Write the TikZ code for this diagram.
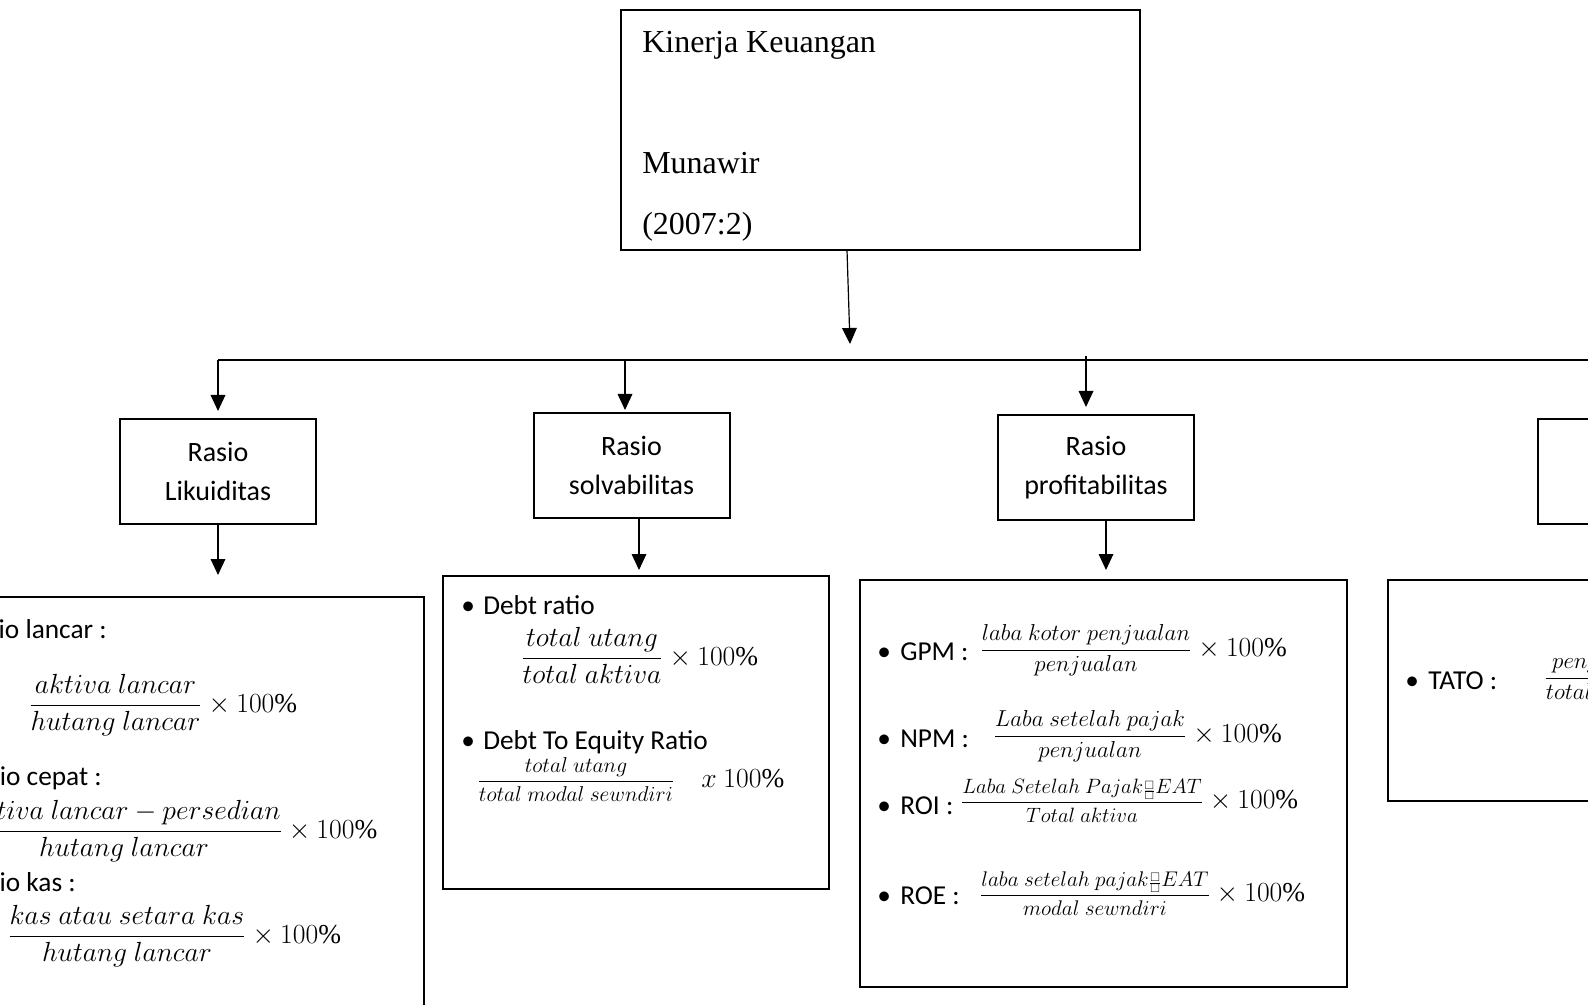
\documentclass[tikz,border=0pt]{standalone}
\usepackage{graphicx}
\usepackage{amsmath,amssymb}
\usepackage{fontspec}
\setmainfont{Liberation Serif}
\newfontfamily\calib{Carlito}
\usetikzlibrary{arrows.meta}
\tikzset{
  box/.style={draw, line width=1.5pt, inner sep=0pt},
  hdr/.style={box, font=\calib\fontsize{21}{29}\selectfont, align=center,
              minimum width=147pt, minimum height=78.75pt},
  tnr/.style={font=\fontsize{24}{28}\selectfont, anchor=base west, inner sep=0pt},
  lbl/.style={font=\calib\fontsize{20.5}{25}\selectfont, anchor=base west, inner sep=0pt},
  bigf/.style={font=\fontsize{20.5}{24}\selectfont, anchor=base, inner sep=0pt},
  smf/.style={font=\fontsize{17.28}{20}\selectfont, anchor=base, inner sep=0pt},
  pct/.style={font=\fontsize{20.5}{24}\selectfont, anchor=base west, inner sep=0pt},
  conn/.style={line width=0.9pt},
  arr/.style={conn, -{Triangle[width=11pt,length=12pt]}}
}
\newcommand{\phbox}{{\scriptscriptstyle\frac{\square}{\square}}}
\begin{document}
\begin{tikzpicture}[x=0.75pt,y=-0.75pt]
\fill[white] (0,0) rectangle (1588,1005);
\useasboundingbox (0,0) rectangle (1588,1005);
\clip (0,0) rectangle (1588,1005);

% top box
\node[box, minimum width=389.25pt, minimum height=180pt] (top) at (880.5,130) {};
\node[tnr] (t1) at (642,53) {Kinerja Keuangan};
\node[tnr] (t2) at (642,174) {Munawir};
\node[tnr] (t3) at (642,235) {(2007:2)};

% header boxes
\node[hdr] (h1) at (218,471.5) {Rasio\\Likuiditas};
\node[hdr] (h2) at (631.5,465.5) {Rasio\\solvabilitas};
\node[hdr] (h3) at (1096,467.5) {Rasio\\profitabilitas};
\node[box, minimum width=147pt, minimum height=78.75pt] (h4) at (1636,471.5) {};

% lower boxes
\node[box, minimum width=393pt, minimum height=377.25pt] (l1) at (162,848.5) {};
\node[box, minimum width=289.5pt, minimum height=234.75pt] (l2) at (636,732.5) {};
\node[box, minimum width=365.25pt, minimum height=305.25pt] (l3) at (1103.5,783.5) {};
\node[box, minimum width=365.25pt, minimum height=165.75pt] (l4) at (1631.5,690.5) {};

% connectors
\coordinate (a0s) at (847,250);
\coordinate (a0e) at (850,344);
\draw[arr] (a0s) -- (a0e);
\coordinate (hl) at (218,360);
\coordinate (hr) at (1600,360);
\draw[conn] (hl) -- (hr);
\coordinate (a1e) at (218,411);
\draw[arr] (hl) -- (a1e);
\coordinate (a2s) at (625,360);
\coordinate (a2e) at (625,410);
\draw[arr] (a2s) -- (a2e);
\coordinate (a3s) at (1086,356);
\coordinate (a3e) at (1086,407);
\draw[arr] (a3s) -- (a3e);
\coordinate (d1e) at (218,575);
\draw[arr] (h1.south) -- (d1e);
\coordinate (d2s) at (639,518);
\coordinate (d2e) at (639,570);
\draw[arr] (d2s) -- (d2e);
\coordinate (d3s) at (1106,520);
\coordinate (d3e) at (1106,570);
\draw[arr] (d3s) -- (d3e);

% box 1 content
\node[lbl, anchor=base east] (r1) at (107,638) {•\hspace{18pt}Rasio lancar :};
\node[bigf] (f1) at (115.5,712) {$\dfrac{aktiva\ lancar}{hutang\ lancar}$};
\node[pct] (p1) at (f1.base east) {${}\times 100\%$};
\node[lbl, anchor=base east] (r2) at (102,785) {•\hspace{18pt}Rasio cepat :};
\node[bigf] (f2) at (124,838) {$\dfrac{aktiva\ lancar-persedian}{hutang\ lancar}$};
\node[pct] (p2) at (f2.base east) {${}\times 100\%$};
\node[lbl, anchor=base east] (r3) at (76,891) {•\hspace{18pt}Rasio kas :};
\node[bigf] (f3) at (127,943) {$\dfrac{kas\ atau\ setara\ kas}{hutang\ lancar}$};
\node[pct] (p3) at (f3.base east) {${}\times 100\%$};

% box 2 content
\node[lbl] (b21) at (461,614) {•};
\node[lbl] (s1) at (483,614) {Debt ratio};
\node[bigf] (f4) at (592,665) {$\dfrac{total\ utang}{total\ aktiva}$};
\node[pct] (p4) at (f4.base east) {${}\times 100\%$};
\node[lbl] (b22) at (461,749) {•};
\node[lbl] (s2) at (483,749) {Debt To Equity Ratio};
\node[smf] (f5) at (576,787) {\scalebox{0.932}{$\dfrac{total\ utang}{total\ modal\ sewndiri}$}};
\node[pct] (p5) at (701,787) {$x\ 100\%$};

% box 3 content
\node[lbl] (b31) at (877,660) {•};
\node[lbl] (g1) at (900,660) {GPM :};
\node[smf] (f6) at (1086,656) {$\dfrac{laba\ kotor\ penjualan}{penjualan}$};
\node[pct] (p6) at (f6.base east) {${}\times 100\%$};
\node[lbl] (b32) at (877,747) {•};
\node[lbl] (g2) at (900,747) {NPM :};
\node[smf] (f7) at (1090,742) {$\dfrac{Laba\ setelah\ pajak}{penjualan}$};
\node[pct] (p7) at (f7.base east) {${}\times 100\%$};
\node[lbl] (b33) at (877,814) {•};
\node[lbl] (g3) at (900,814) {ROI :};
\node[smf] (f8) at (1082,808) {\scalebox{0.9}{$\dfrac{Laba\ Setelah\ Pajak\phbox EAT}{Total\ aktiva}$}};
\node[pct] (p8) at (f8.base east) {${}\times 100\%$};
\node[lbl] (b34) at (877,904) {•};
\node[lbl] (g4) at (900,904) {ROE :};
\node[smf] (f9) at (1095,901) {\scalebox{0.92}{$\dfrac{laba\ setelah\ pajak\phbox EAT}{modal\ sewndiri}$}};
\node[pct] (p9) at (f9.base east) {${}\times 100\%$};

% box 4 content
\node[lbl] (b41) at (1405,689) {•};
\node[lbl] (g5) at (1428,689) {TATO :};
\node[smf, anchor=base west] (f10) at (1544,684) {$\dfrac{penjualan}{total\ aktiva}$};
\node[pct] (p10) at (f10.base east) {${}\times 100\%$};
\end{tikzpicture}
\end{document}
